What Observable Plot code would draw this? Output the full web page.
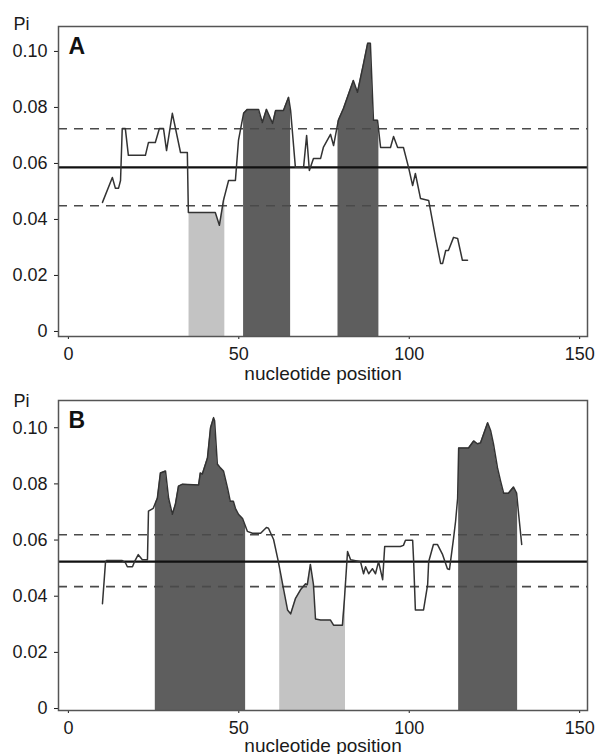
<!DOCTYPE html>
<html><head><meta charset="utf-8">
<script src="https://cdn.jsdelivr.net/npm/d3@7"></script>
<script src="https://cdn.jsdelivr.net/npm/@observablehq/plot@0.6"></script>
<style>
body{margin:0;background:#fff;}
#wrap{position:relative;width:595px;height:754px;overflow:hidden;background:#fff;font-family:"Liberation Sans",Arial,sans-serif;}
#pa{position:absolute;left:0;top:0;}
#pb{position:absolute;left:0;top:374px;}
svg{overflow:visible;}
</style></head><body><div id="wrap"><div id="pa"></div><div id="pb"></div></div>
<script>
// ---- Panel A data ----
const posA = [10.0,12.9,13.8,14.7,15.3,15.8,16.7,17.6,22.6,23.5,25.5,26.7,27.9,28.8,30.5,32.9,34.9,35.2,43.1,44.3,45.5,47.0,49.0,49.9,51.4,52.5,55.8,56.9,58.1,59.9,60.8,63.1,64.6,65.2,66.6,69.0,69.9,70.7,71.9,74.0,74.8,76.9,77.8,79.2,80.7,83.6,84.8,86.6,87.8,88.6,89.5,90.7,91.6,94.5,95.4,96.6,98.3,99.8,101.0,101.8,103.3,105.7,107.7,109.2,109.8,110.7,111.5,113.0,114.2,115.6,117.1];
const piA = [0.0461,0.0550,0.0511,0.0511,0.0539,0.0725,0.0725,0.0629,0.0629,0.0675,0.0675,0.0725,0.0725,0.0646,0.0779,0.0639,0.0639,0.0425,0.0425,0.0379,0.0468,0.0539,0.0539,0.0682,0.0779,0.0793,0.0793,0.0746,0.0793,0.0743,0.0789,0.0789,0.0836,0.0789,0.0586,0.0586,0.0700,0.0575,0.0618,0.0618,0.0657,0.0704,0.0664,0.0754,0.0796,0.0896,0.0854,0.0957,0.1029,0.1029,0.0754,0.0754,0.0657,0.0657,0.0696,0.0657,0.0657,0.0586,0.0521,0.0564,0.0475,0.0468,0.0336,0.0243,0.0243,0.0289,0.0289,0.0336,0.0332,0.0254,0.0254];
const regionStartA = [35.4, 51.4, 79.1];
const regionEndA   = [45.9, 65.2, 91.1];
const regionKindA  = ["low", "high", "high"];
const meanA = 0.0586, upperA = 0.0724, lowerA = 0.0449;

// ---- Panel B data ----
const posB = [10.0,10.9,11.2,15.8,16.7,17.3,18.8,19.4,20.5,21.7,23.2,23.5,24.9,26.1,27.0,28.5,29.4,30.5,31.4,32.3,33.5,38.2,38.7,39.3,40.8,41.7,42.6,42.9,43.7,44.6,45.5,46.7,47.5,48.4,49.0,49.9,51.1,52.5,54.0,56.4,58.1,58.7,60.2,61.6,63.1,64.3,65.2,66.6,68.1,69.6,70.1,71.0,71.9,72.5,74.0,76.9,77.8,80.4,81.0,81.9,82.8,85.7,86.6,87.2,88.1,89.2,90.1,91.0,92.2,92.8,97.4,98.3,98.9,101.0,101.3,101.8,104.2,105.4,105.7,107.1,108.3,109.8,111.2,111.8,113.0,113.6,114.2,114.5,117.4,118.9,120.0,120.9,123.0,123.9,124.7,125.9,126.8,127.7,129.1,130.6,131.5,132.1,133.0];
const piB = [0.0373,0.0523,0.0527,0.0527,0.0520,0.0505,0.0505,0.0523,0.0548,0.0530,0.0530,0.0703,0.0713,0.0749,0.0839,0.0846,0.0749,0.0692,0.0728,0.0792,0.0799,0.0796,0.0839,0.0835,0.0892,0.1000,0.1036,0.1025,0.0871,0.0857,0.0846,0.0785,0.0738,0.0738,0.0713,0.0692,0.0677,0.0631,0.0624,0.0624,0.0645,0.0642,0.0602,0.0523,0.0427,0.0351,0.0337,0.0391,0.0423,0.0444,0.0441,0.0513,0.0441,0.0319,0.0315,0.0315,0.0297,0.0297,0.0391,0.0559,0.0530,0.0523,0.0480,0.0505,0.0480,0.0498,0.0480,0.0523,0.0459,0.0577,0.0577,0.0581,0.0599,0.0599,0.0523,0.0351,0.0351,0.0441,0.0523,0.0584,0.0584,0.0548,0.0498,0.0495,0.0606,0.0667,0.0749,0.0928,0.0928,0.0953,0.0943,0.0946,0.1018,0.0989,0.0943,0.0857,0.0810,0.0767,0.0767,0.0789,0.0767,0.0692,0.0584];
const regionStartB = [25.5, 62.0, 114.5];
const regionEndB   = [52.0, 81.3, 131.8];
const regionKindB  = ["high", "low", "high"];
const meanB = 0.0523, upperB = 0.0619, lowerB = 0.0434;

// ---- axis / text ----
const xTicks = [0, 50, 100, 150];
const yTicks = [0, 0.02, 0.04, 0.06, 0.08, 0.10];
const yLabel = "Pi";
const xLabel = "nucleotide position";

const FONT = "Liberation Sans, Arial, Helvetica, sans-serif";
const DARK = "#5e5e5e", LIGHT = "#c3c3c3";

function interp(xs, ys, x) {
  for (let i = 0; i < xs.length - 1; i++) {
    if (x >= xs[i] && x <= xs[i + 1]) {
      const t = (x - xs[i]) / (xs[i + 1] - xs[i] || 1);
      return ys[i] + t * (ys[i + 1] - ys[i]);
    }
  }
  return ys[ys.length - 1];
}

function panel(cfg) {
  const line = cfg.pos.map((x, i) => ({x, y: cfg.pi[i]}));
  const fills = [];
  cfg.starts.forEach((s, r) => {
    const e = cfg.ends[r];
    const pts = [{x: s, y: interp(cfg.pos, cfg.pi, s)}];
    line.forEach(d => { if (d.x > s && d.x < e) pts.push(d); });
    pts.push({x: e, y: interp(cfg.pos, cfg.pi, e)});
    pts.forEach(p => fills.push({x: p.x, y: p.y, region: r, kind: cfg.kinds[r]}));
  });
  const yMin = cfg.yDomain[0];
  return Plot.plot({
    width: 595,
    height: 26 + 310 + cfg.marginBottom,
    marginLeft: 58,
    marginRight: 8,
    marginTop: 26,
    marginBottom: cfg.marginBottom,
    style: {fontSize: "18px", fontFamily: FONT, color: "#1a1a1a", background: "transparent", overflow: "visible"},
    x: {domain: [-2.9, 152.3], ticks: xTicks, tickSize: 3, tickPadding: 8, label: null},
    y: {domain: cfg.yDomain, ticks: yTicks, tickSize: 4, tickPadding: 7, label: null,
        tickFormat: d => d === 0 ? "0" : d.toFixed(2)},
    marks: [
      Plot.areaY(fills.filter(d => d.kind === "high"), {x: "x", y1: yMin, y2: "y", z: "region", fill: DARK}),
      Plot.areaY(fills.filter(d => d.kind === "low"), {x: "x", y1: yMin, y2: "y", z: "region", fill: LIGHT}),
      Plot.ruleY([cfg.upper, cfg.lower], {stroke: "#4a4a4a", strokeWidth: 1.6, strokeDasharray: "9,7"}),
      Plot.ruleY([cfg.mean], {stroke: "#111", strokeWidth: 2.2}),
      Plot.line(line, {x: "x", y: "y", stroke: "#333", strokeWidth: 1.5}),
      Plot.frame({stroke: "#555", strokeWidth: 1.5}),
      Plot.text([yLabel], {frameAnchor: "top-left", dx: -45, dy: cfg.piDy, textAnchor: "start", lineAnchor: "bottom", fontSize: 18, fill: "#1a1a1a"}),
      Plot.text([cfg.tag], {frameAnchor: "top-left", dx: 10, dy: 27, textAnchor: "start", lineAnchor: "bottom", fontSize: 23, fontWeight: "bold", fill: "#111"}),
      Plot.text([xLabel], {frameAnchor: "bottom", dy: cfg.xLabDy, lineAnchor: "bottom", fontSize: 19, fill: "#1a1a1a"})
    ]
  });
}

document.getElementById("pa").appendChild(panel({
  pos: posA, pi: piA, starts: regionStartA, ends: regionEndA, kinds: regionKindA,
  mean: meanA, upper: upperA, lower: lowerA, tag: "A",
  yDomain: [-0.0018, 0.1089], marginBottom: 54, piDy: 3, xLabDy: 43
}));
document.getElementById("pb").appendChild(panel({
  pos: posB, pi: piB, starts: regionStartB, ends: regionEndB, kinds: regionKindB,
  mean: meanB, upper: upperB, lower: lowerB, tag: "B",
  yDomain: [-0.0007, 0.1097], marginBottom: 46, piDy: 6, xLabDy: 41
}));
</script>
</body></html>
